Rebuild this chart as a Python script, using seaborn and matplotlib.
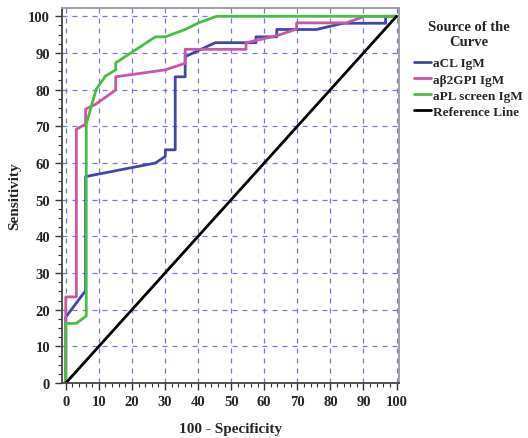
import numpy as np
import pandas as pd
import matplotlib
matplotlib.use("Agg")
import matplotlib.pyplot as plt
from matplotlib.ticker import MultipleLocator
import seaborn as sns

# ROC curves (100 - specificity, sensitivity)
acl_x = [0, 0, 6.0, 6.0, 27.1, 30.1, 30.1, 33.1, 33.1, 36.1, 36.1, 45.2, 57.5, 57.5, 63.8, 63.8, 75.8, 83.8, 96.7, 96.7, 100]
acl_y = [0, 18.0, 25.2, 56.3, 60.0, 61.8, 63.6, 63.6, 83.5, 83.5, 89.0, 92.8, 92.8, 94.4, 94.4, 96.4, 96.4, 98.1, 98.1, 100, 100]

b2gpi_x = [0, 0, 3.2, 3.2, 6.0, 6.0, 9.0, 15.1, 15.1, 30.1, 36.1, 36.1, 54.5, 54.5, 63.8, 69.8, 69.8, 84.8, 90.4, 100]
b2gpi_y = [0, 23.5, 23.5, 69.2, 70.6, 74.7, 76.0, 79.9, 83.5, 85.4, 87.2, 91.0, 91.0, 92.8, 94.7, 96.5, 98.2, 98.2, 100, 100]

apl_x = [0, 0, 3.2, 6.2, 6.2, 9.2, 12.0, 15.1, 15.1, 27.1, 30.1, 36.1, 40.1, 45.7, 100]
apl_y = [0, 16.3, 16.3, 18.3, 70.6, 80.1, 83.7, 85.4, 87.3, 94.4, 94.4, 96.4, 98.2, 100, 100]

ref_x = [0, 100]
ref_y = [0, 100]

labels = ["aCL IgM", "a\u03b22GPI IgM", "aPL screen IgM", "Reference Line"]
colors = ["#3F48A8", "#C957A9", "#4DBB45", "#000000"]

frames = []
for lab, xs, ys in zip(labels, [acl_x, b2gpi_x, apl_x, ref_x], [acl_y, b2gpi_y, apl_y, ref_y]):
    frames.append(pd.DataFrame({"x": xs, "y": ys, "curve": lab, "order": np.arange(len(xs))}))
df = pd.concat(frames, ignore_index=True)

sns.set_style("white")
plt.rcParams["font.family"] = ["Liberation Serif", "DejaVu Serif"]
plt.rcParams["font.weight"] = "bold"

fig = plt.figure(figsize=(5.28, 4.39), dpi=100)
ax = fig.add_axes([0.117, 0.125, 0.639, 0.854])

sns.lineplot(data=df, x="x", y="y", hue="curve", hue_order=labels, palette=colors,
             sort=False, estimator=None, units="curve", lw=2, ax=ax)

ax.set_xlim(-1.2, 100.8)
ax.set_ylim(0, 102.2)
ax.xaxis.set_major_locator(MultipleLocator(10))
ax.xaxis.set_minor_locator(MultipleLocator(2))
ax.yaxis.set_major_locator(MultipleLocator(10))
ax.yaxis.set_minor_locator(MultipleLocator(2.5))
ax.tick_params(which="major", direction="out", length=5, width=1, labelsize=10.5,
               bottom=True, left=True, color="#333333")
ax.tick_params(which="minor", direction="out", length=3, width=0.8,
               bottom=True, left=True, color="#333333")
ax.grid(True, which="major", color="#7878CC", linestyle=(0, (4, 4)), lw=0.9)
ax.set_axisbelow(True)
for s in ["left", "bottom"]:
    ax.spines[s].set_color("#444444")
    ax.spines[s].set_linewidth(1.3)
for s in ["top", "right"]:
    ax.spines[s].set_color("#999999")
    ax.spines[s].set_linewidth(1.3)

ax.set_xlabel("100 - Specificity", fontsize=11, fontweight="bold", labelpad=10)
ax.set_ylabel("Sensitivity", fontsize=11, fontweight="bold", labelpad=5)

leg = ax.legend(title="Source of the\nCurve", loc="upper left", bbox_to_anchor=(1.005, 1.005),
                frameon=False, fontsize=9.5, title_fontsize=10.5, handlelength=1.3,
                handletextpad=0.15, labelspacing=0.3, borderaxespad=0.6)
leg.get_title().set_fontweight("bold")
leg.get_title().set_multialignment("center")
leg._legend_box.sep = 7
for t in leg.get_texts():
    t.set_fontweight("bold")

fig.savefig("out.png", dpi=100)
